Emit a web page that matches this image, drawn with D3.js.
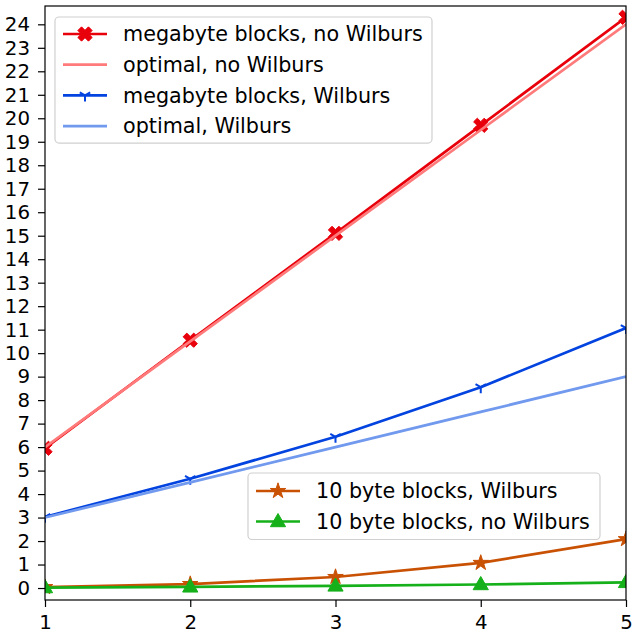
<!DOCTYPE html>
<html>
<head>
<meta charset="utf-8">
<script src="https://cdn.jsdelivr.net/npm/d3@7"></script>
<style>
  body { margin: 0; background: #fff; }
  svg { display: block; font-family: "DejaVu Sans", sans-serif; }
</style>
</head>
<body>
<figure id="chart" style="margin:0"></figure>
<script>
// data
const nodes = [1, 2, 3, 4, 5];
const mbNoWilburs = [5.95, 10.55, 15.1, 19.7, 24.3];
const optNoWilburs = [6, 10.5, 15, 19.5, 24];
const mbWilburs = [3.03, 4.65, 6.44, 8.55, 11.07];
const optWilburs = [3, 4.5, 6, 7.5, 9];
const tenWilburs = [0.04, 0.17, 0.47, 1.07, 2.08];
const tenNoWilburs = [0.02, 0.05, 0.09, 0.15, 0.24];
const yTicks = d3.range(0, 25);
const xTicks = [1, 2, 3, 4, 5];

const series = [
  {name: "megabyte blocks, no Wilburs", values: mbNoWilburs, color: "#e8000b", marker: "X", legend: 0},
  {name: "optimal, no Wilburs", values: optNoWilburs, color: "#ff7b7b", marker: null, legend: 0},
  {name: "megabyte blocks, Wilburs", values: mbWilburs, color: "#0343df", marker: "tri", legend: 0},
  {name: "optimal, Wilburs", values: optWilburs, color: "#7199ee", marker: null, legend: 0},
  {name: "10 byte blocks, Wilburs", values: tenWilburs, color: "#c95104", marker: "star", legend: 1},
  {name: "10 byte blocks, no Wilburs", values: tenNoWilburs, color: "#15b01a", marker: "tri-up", legend: 1}
];

const W = 634, H = 634;
const plotL = 45, plotR = 626, plotT = 6, plotB = 600;
const tickFont = 19.8;
const legendFont = 20.7;

const svg = d3.select("#chart").append("svg")
  .attr("width", W).attr("height", H);

const x = d3.scaleLinear().domain([1, 5]).range([plotL, plotR]);
const y = d3.scaleLinear().domain([-0.51, 24.78]).range([plotB, plotT]);

svg.append("defs").append("clipPath").attr("id", "plotclip")
  .append("rect").attr("x", plotL).attr("y", plotT)
  .attr("width", plotR - plotL).attr("height", plotB - plotT);

// axes
const xAxis = svg.append("g")
  .attr("transform", "translate(0," + plotB + ")")
  .call(d3.axisBottom(x).tickValues(xTicks).tickFormat(d3.format("d")).tickSize(7).tickPadding(8));
const yAxis = svg.append("g")
  .attr("transform", "translate(" + plotL + ",0)")
  .call(d3.axisLeft(y).tickValues(yTicks).tickFormat(d3.format("d")).tickSize(7).tickPadding(8));
[xAxis, yAxis].forEach(a => {
  a.select(".domain").remove();
  a.selectAll("line").attr("stroke", "#000").attr("stroke-width", 1.2);
  a.selectAll("text").attr("fill", "#000").style("font-size", tickFont + "px")
    .style("font-family", "DejaVu Sans");
});

// markers
function markerPath(type) {
  if (type === "X") {
    // filled thick cross, like matplotlib 'X'
    const r = 7.5, w = 2.6;
    const pts = [[-w, -r], [w, -r], [w, -w], [r, -w], [r, w], [w, w], [w, r], [-w, r], [-w, w], [-r, w], [-r, -w], [-w, -w]];
    const c = Math.SQRT1_2;
    return "M" + pts.map(p => [(p[0] - p[1]) * c, (p[0] + p[1]) * c].join(",")).join("L") + "Z";
  }
  if (type === "star") return d3.symbol().type(d3.symbolStar).size(75)();
  if (type === "tri-up") {
    const r = 8;
    return "M0," + (-r) + "L" + (r * 0.95) + "," + (r * 0.65) + "L" + (-r * 0.95) + "," + (r * 0.65) + "Z";
  }
  if (type === "tri") {
    const r = 6;
    return "M0,0L0," + r + "M0,0L" + (-r * 0.87) + "," + (-r * 0.5) + "M0,0L" + (r * 0.87) + "," + (-r * 0.5);
  }
  return "";
}

function drawMarker(g, type, color, px, py) {
  const p = g.append("path").attr("d", markerPath(type))
    .attr("transform", "translate(" + px + "," + py + ")");
  if (type === "tri") {
    p.attr("fill", "none").attr("stroke", color).attr("stroke-width", 2);
  } else {
    p.attr("fill", color).attr("stroke", color).attr("stroke-width", 1).attr("stroke-linejoin", "miter");
  }
}

const plot = svg.append("g").attr("clip-path", "url(#plotclip)");
const line = d3.line().x((d, i) => x(nodes[i])).y(d => y(d));

series.forEach(s => {
  plot.append("path").datum(s.values)
    .attr("d", line)
    .attr("fill", "none")
    .attr("stroke", s.color)
    .attr("stroke-width", 2.7)
    .attr("stroke-linejoin", "round");
  if (s.marker) {
    s.values.forEach((v, i) => drawMarker(plot, s.marker, s.color, x(nodes[i]), y(v)));
  }
});

// frame
svg.append("rect").attr("x", plotL).attr("y", plotT)
  .attr("width", plotR - plotL).attr("height", plotB - plotT)
  .attr("fill", "none").attr("stroke", "#000").attr("stroke-width", 1.2);

// legends
const legendBoxes = [
  {x0: 55, y0: 17, w: 377, rowY: 34, step: 30.7},
  {x0: 248, y0: 473, w: 352, rowY: 491, step: 30.5}
];
legendBoxes.forEach((b, li) => {
  const items = series.filter(s => s.legend === li);
  const h = (items.length - 1) * b.step + 2 * (b.rowY - b.y0);
  const lg = svg.append("g");
  lg.append("rect").attr("x", b.x0).attr("y", b.y0).attr("width", b.w).attr("height", h)
    .attr("rx", 4).attr("fill", "#fff").attr("fill-opacity", 0.8)
    .attr("stroke", "#d0d0d0").attr("stroke-width", 1.2);
  items.forEach((s, i) => {
    const ry = b.rowY + i * b.step;
    lg.append("line").attr("x1", b.x0 + 8).attr("x2", b.x0 + 52)
      .attr("y1", ry).attr("y2", ry)
      .attr("stroke", s.color).attr("stroke-width", 2.7);
    if (s.marker) drawMarker(lg, s.marker, s.color, b.x0 + 30, ry);
    lg.append("text").attr("x", b.x0 + 68).attr("y", ry)
      .attr("dy", "0.35em")
      .style("font-size", legendFont + "px")
      .attr("fill", "#000")
      .text(s.name);
  });
});
</script>
</body>
</html>
